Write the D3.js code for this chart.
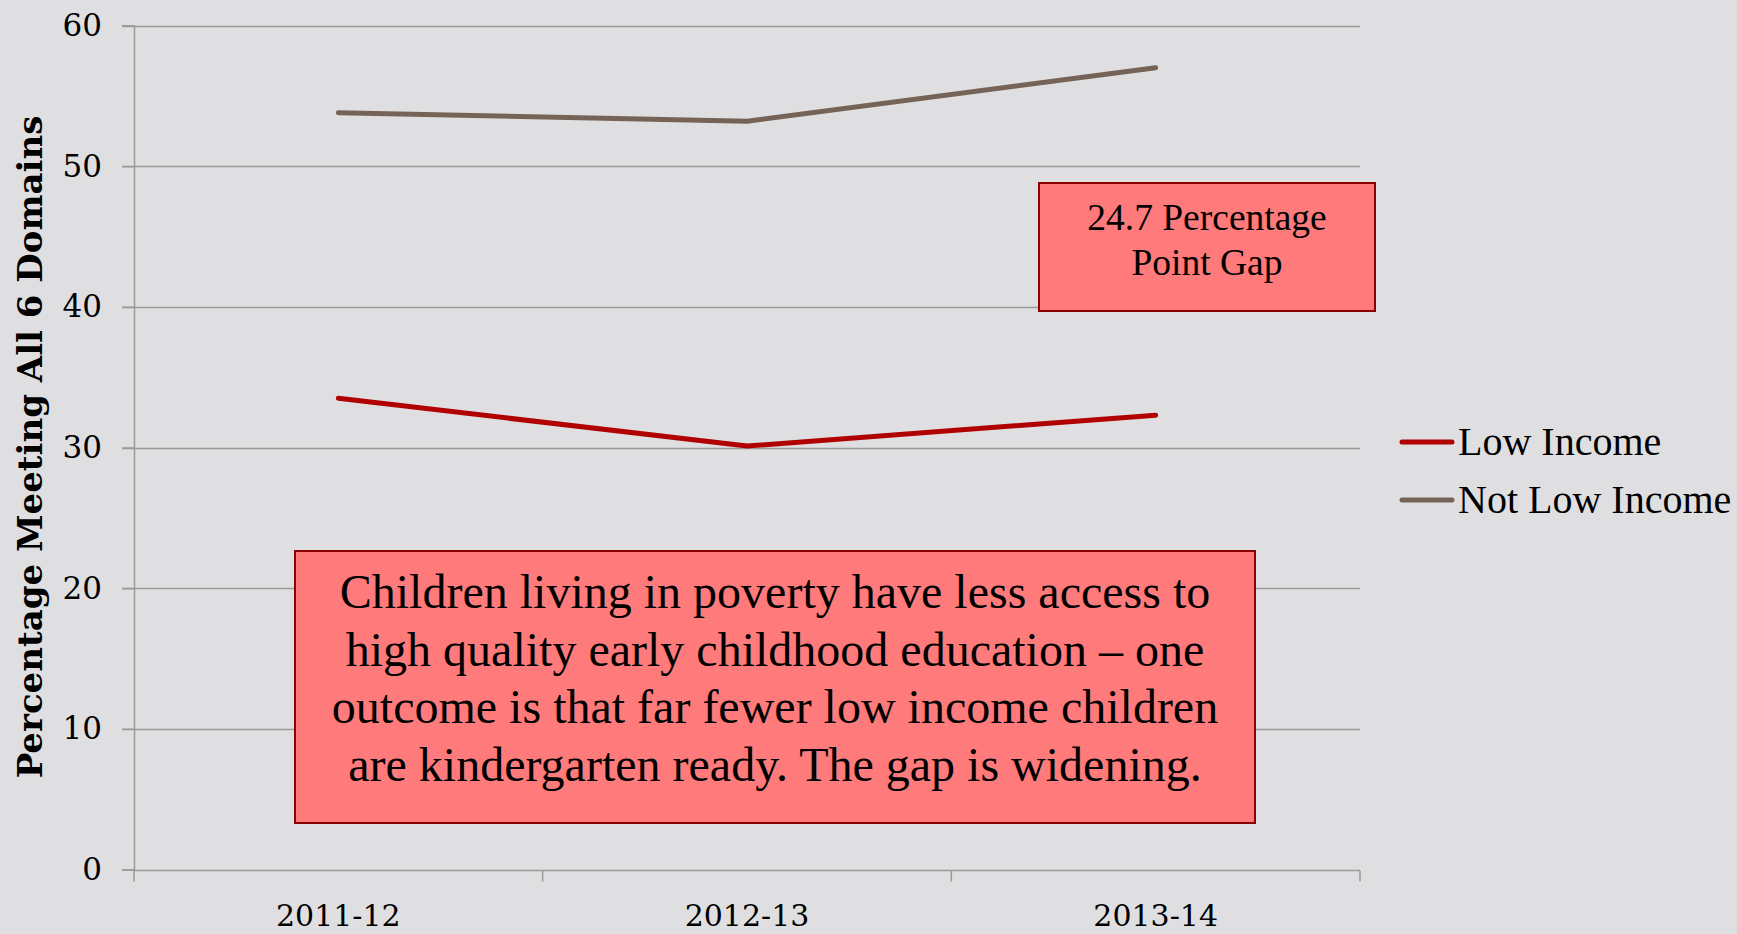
<!DOCTYPE html>
<html>
<head>
<meta charset="utf-8">
<script src="https://cdn.jsdelivr.net/npm/d3@7"></script>
<style>
  html, body { margin: 0; padding: 0; background: #dfdfe1; }
  svg { display: block; }
  text { font-family: "Liberation Serif", "Times New Roman", serif; fill: #000; }
  .axis-font { font-family: "DejaVu Serif", Georgia, serif; }
</style>
</head>
<body>
<svg id="chart" width="1737" height="934"></svg>
<script>
// School years on the x axis
const years = ["2011-12", "2012-13", "2013-14"];
// Percentage of children meeting all 6 readiness domains
const lowIncome = [33.5, 30.1, 32.3];
const notLowIncome = [53.8, 53.2, 57.0];
const seriesNames = ["Low Income", "Not Low Income"];
const seriesColors = ["#b00000", "#766357"];
const yTicks = [0, 10, 20, 30, 40, 50, 60];

const gapNote = ["24.7 Percentage", "Point Gap"];
const mainNote = [
  "Children living in poverty have less access to",
  "high quality early childhood education \u2013 one",
  "outcome is that far fewer low income children",
  "are kindergarten ready. The gap is widening."
];

const svg = d3.select("#chart");
const plot = { left: 134, right: 1360, top: 25.5, bottom: 869.5 };

const x = d3.scaleBand().domain(years).range([plot.left, plot.right]);
const y = d3.scaleLinear().domain([0, 60]).range([plot.bottom, plot.top]);

// Horizontal gridlines
svg.append("g")
  .selectAll("line")
  .data(yTicks.filter(d => d > 0))
  .join("line")
  .attr("x1", plot.left - 12).attr("x2", plot.right)
  .attr("y1", d => Math.round(y(d)) + 0.5).attr("y2", d => Math.round(y(d)) + 0.5)
  .attr("stroke", "#9a9a9a").attr("stroke-width", 1.5);

// Y axis
const yAxis = svg.append("g")
  .attr("transform", `translate(${plot.left},0)`)
  .call(d3.axisLeft(y).tickValues(yTicks).tickSize(12).tickPadding(20));
yAxis.select(".domain").attr("stroke", "#9a9a9a").attr("stroke-width", 1.5);
yAxis.selectAll(".tick line").attr("stroke", "#9a9a9a").attr("stroke-width", 1.5);
yAxis.selectAll(".tick text")
  .attr("class", "axis-font")
  .attr("font-size", 31).attr("font-family", null).attr("fill", "#000");

// X axis with boundary ticks between categories
const xAxisG = svg.append("g").attr("transform", `translate(0,${Math.round(y(0)) + 0.5})`);
xAxisG.append("line")
  .attr("x1", plot.left).attr("x2", plot.right)
  .attr("stroke", "#9a9a9a").attr("stroke-width", 1.5);
const bounds = years.map(d => x(d)).concat([plot.right]);
xAxisG.selectAll("line.b").data(bounds).join("line").attr("class", "b")
  .attr("x1", d => d).attr("x2", d => d).attr("y1", 0).attr("y2", 11)
  .attr("stroke", "#9a9a9a").attr("stroke-width", 1.5);
xAxisG.selectAll("text").data(years).join("text")
  .attr("class", "axis-font")
  .attr("x", d => x(d) + x.bandwidth() / 2)
  .attr("y", 55)
  .attr("text-anchor", "middle")
  .attr("font-size", 30)
  .text(d => d);

// Y axis title
svg.append("text")
  .attr("class", "axis-font")
  .attr("transform", `translate(42,447) rotate(-90)`)
  .attr("text-anchor", "middle")
  .attr("font-size", 34)
  .attr("font-weight", "bold")
  .text("Percentage Meeting All 6 Domains");

// Series lines
const line = d3.line()
  .x((d, i) => x(years[i]) + x.bandwidth() / 2)
  .y(d => y(d));
[lowIncome, notLowIncome].forEach((vals, i) => {
  svg.append("path")
    .datum(vals)
    .attr("d", line)
    .attr("fill", "none")
    .attr("stroke", seriesColors[i])
    .attr("stroke-width", 5)
    .attr("stroke-linecap", "round")
    .attr("stroke-linejoin", "round");
});

// Legend
const legend = svg.append("g");
seriesNames.forEach((name, i) => {
  const ly = 442 + i * 58;
  legend.append("line")
    .attr("x1", 1402).attr("x2", 1452).attr("y1", ly).attr("y2", ly)
    .attr("stroke", seriesColors[i]).attr("stroke-width", 5).attr("stroke-linecap", "round");
  legend.append("text")
    .attr("x", 1458).attr("y", ly + 13)
    .attr("font-size", 40)
    .text(name);
});

// Annotation boxes
function noteBox(x0, y0, w, h, lines, size, lineGap, firstBaseline) {
  const g = svg.append("g");
  g.append("rect")
    .attr("x", x0).attr("y", y0).attr("width", w).attr("height", h)
    .attr("fill", "#ff7a7a").attr("stroke", "#8b0000").attr("stroke-width", 2);
  g.selectAll("text").data(lines).join("text")
    .attr("x", x0 + w / 2)
    .attr("y", (d, i) => y0 + firstBaseline + i * lineGap)
    .attr("text-anchor", "middle")
    .attr("font-size", size)
    .text(d => d);
}
noteBox(1039, 183, 336, 128, gapNote, 37.5, 45, 47);
noteBox(295, 551, 960, 272, mainNote, 48, 57.6, 57);
</script>
</body>
</html>
